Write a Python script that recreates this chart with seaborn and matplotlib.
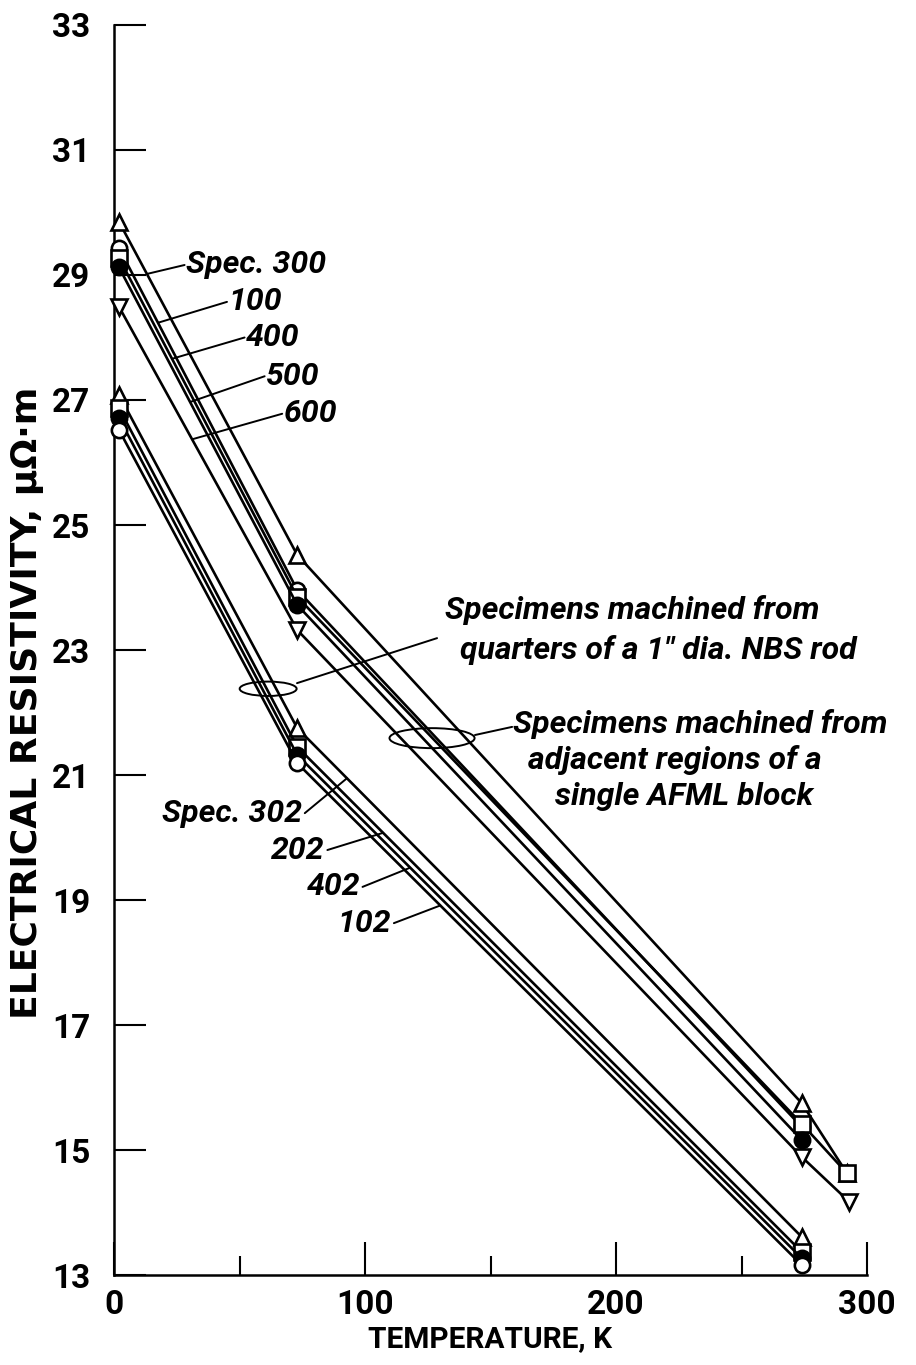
import numpy as np
import pandas as pd
import matplotlib
matplotlib.use("Agg")
import matplotlib.pyplot as plt
from matplotlib.patches import Ellipse
import seaborn as sns

# ---- data -------------------------------------------------------------
# NBS rod specimens (upper family)
t_upper = [2, 73, 274, 292]
t_short = [2, 73, 274]
t_600 = [2, 73, 274, 293]
spec300 = [29.85, 24.52, 15.75, 14.63]
spec100 = [29.43, 23.96, 15.37]
spec400 = [29.27, 23.85, 15.42, 14.63]
spec500 = [29.12, 23.72, 15.16]
spec600 = [28.49, 23.32, 14.89, 14.17]

# AFML block specimens (lower family)
t_lower = [2, 73, 274]
spec302 = [27.08, 21.75, 13.61]
spec202 = [26.87, 21.45, 13.37]
spec402 = [26.71, 21.32, 13.27]
spec102 = [26.52, 21.19, 13.16]

y_ticks = [13, 15, 17, 19, 21, 23, 25, 27, 29, 31, 33]
x_ticks = [0, 100, 200, 300]

# ---- style --------------------------------------------------------------
sns.set_style("ticks")
FAM = ["Roboto", "DejaVu Sans"]
plt.rcParams["font.family"] = FAM
plt.rcParams["font.weight"] = "bold"
for key in ("text.color", "axes.labelcolor", "xtick.color", "ytick.color",
            "axes.edgecolor"):
    plt.rcParams[key] = "black"

fig = plt.figure(figsize=(9.16, 13.65), dpi=100)
ax = fig.add_axes([0.1245, 0.0659, 0.822, 0.9158])

series = [
    # (label, temps, values, marker, face)
    ("300", t_upper, spec300, "^", "white"),
    ("100", t_short, spec100, "o", "white"),
    ("400", t_upper, spec400, "s", "white"),
    ("500", t_short, spec500, "o", "black"),
    ("600", t_600, spec600, "v", "white"),
    ("302", t_lower, spec302, "^", "white"),
    ("202", t_lower, spec202, "s", "white"),
    ("402", t_lower, spec402, "o", "black"),
    ("102", t_lower, spec102, "o", "white"),
]

for name, tt, vv, mk, face in series:
    df = pd.DataFrame({"T": tt, "rho": vv})
    sns.lineplot(data=df, x="T", y="rho", ax=ax, color="black", lw=1.9,
                 marker=mk, markersize=11, markerfacecolor=face,
                 markeredgecolor="black", markeredgewidth=1.9,
                 clip_on=False, zorder=3)

ax.set_xlim(0, 300)
ax.set_ylim(13, 33)
ax.set_xticks(x_ticks)
ax.set_xticks([50, 150, 250], minor=True)
ax.set_yticks(y_ticks)
ax.set_xticklabels([str(v) for v in x_ticks])
ax.set_yticklabels([str(v) for v in y_ticks])
sns.despine(ax=ax)
for s in ("left", "bottom"):
    ax.spines[s].set_linewidth(1.8)
ax.tick_params(axis="y", direction="in", length=23, width=1.5, pad=17,
               labelsize=24)
ax.tick_params(axis="x", which="major", direction="in", length=24, width=1.5,
               pad=10, labelsize=24)
ax.tick_params(axis="x", which="minor", direction="in", length=14, width=1.5)
for lab in ax.get_xticklabels() + ax.get_yticklabels():
    lab.set_fontweight("bold")

ax.set_xlabel("TEMPERATURE, K", fontsize=21.5, fontweight="bold", labelpad=3)
ax.set_ylabel("ELECTRICAL RESISTIVITY, \u03bc\u03a9\u00b7m", fontsize=26,
              fontweight="bold", family=["DejaVu Sans"])
ax.yaxis.set_label_coords(-0.093, 0.458)

TXT = dict(fontsize=23, fontweight="bold", fontstyle="italic", family=FAM,
           color="black")
LEAD = dict(arrowstyle="-", color="black", lw=1.4, shrinkA=0, shrinkB=0)


def on_line(x, tt, vv):
    return float(np.interp(x, tt, vv))


# labels for the NBS family: (text, series temps, values, x on line, text x, text y)
upper_labels = [
    ("Spec. 300", t_upper, spec300, 13.1, 28.6, 29.16),
    ("100", t_short, spec100, 17.5, 45.5, 28.57),
    ("400", t_upper, spec400, 23.1, 52.5, 28.0),
    ("500", t_short, spec500, 30.3, 60.5, 27.38),
    ("600", t_600, spec600, 31.1, 67.5, 26.78),
]
for txt, tt, vv, xl, xt, yt in upper_labels:
    ax.annotate("", xy=(xl, on_line(xl, tt, vv)), xytext=(xt - 0.5, yt + 0.0),
                arrowprops=LEAD)
    ax.text(xt, yt, txt, ha="left", va="center", **TXT)

# labels for the AFML family
lower_labels = [
    ("Spec. 302", t_lower, spec302, 92.8, 75.0, 20.39),
    ("202", t_lower, spec202, 107.2, 84.0, 19.80),
    ("402", t_lower, spec402, 118.0, 98.0, 19.21),
    ("102", t_lower, spec102, 130.0, 110.5, 18.63),
]
for txt, tt, vv, xl, xt, yt in lower_labels:
    ax.annotate("", xy=(xl, on_line(xl, tt, vv)), xytext=(xt + 1.0, yt),
                arrowprops=LEAD)
    ax.text(xt, yt, txt, ha="right", va="center", **TXT)

# group callouts
ax.add_patch(Ellipse((61.4, 22.38), 22.7, 0.23, fill=False, ec="black",
                     lw=1.4, zorder=4))
ax.annotate("", xy=(72.9, 22.47), xytext=(128.7, 23.19), arrowprops=LEAD)
ax.text(131.9, 23.64, "Specimens machined from", ha="left", va="center", **TXT)
ax.text(138.0, 23.0, "quarters of a 1\u2033 dia. NBS rod", ha="left",
        va="center", **TXT)

ax.add_patch(Ellipse((126.7, 21.59), 33.9, 0.32, fill=False, ec="black",
                     lw=1.4, zorder=4))
ax.annotate("", xy=(143.8, 21.64), xytext=(158.6, 21.77), arrowprops=LEAD)
ax.text(159.0, 21.82, "Specimens machined from", ha="left", va="center", **TXT)
ax.text(165.0, 21.24, "adjacent regions of a", ha="left", va="center", **TXT)
ax.text(175.7, 20.66, "single AFML block", ha="left", va="center", **TXT)

fig.savefig("out.png", dpi=100, facecolor="white")
